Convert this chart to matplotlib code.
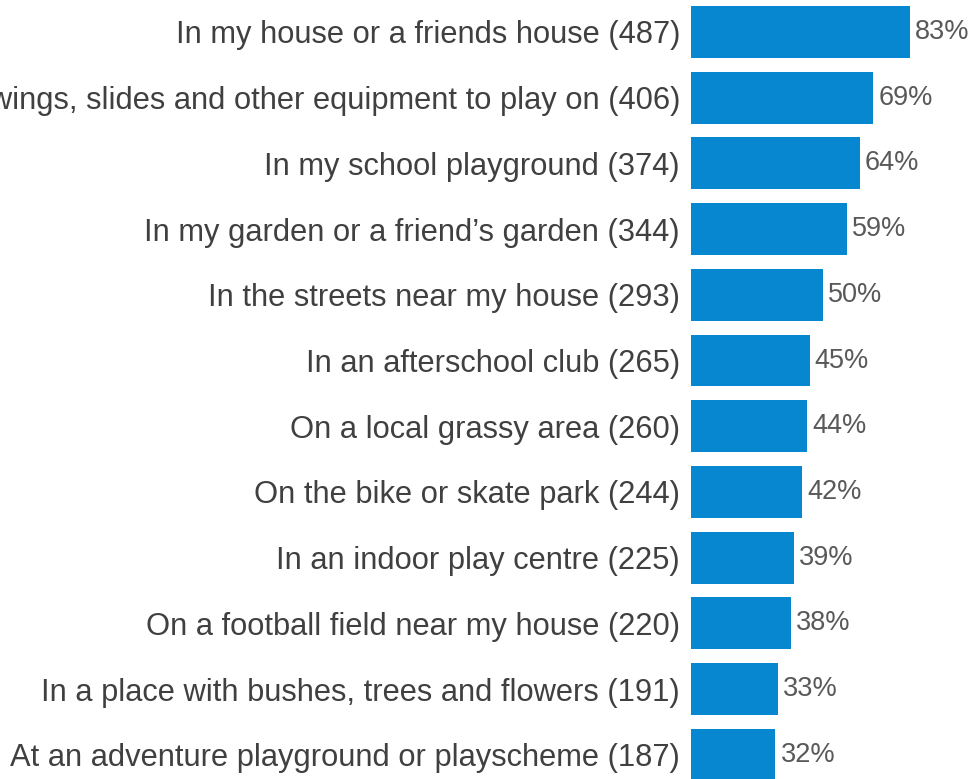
import matplotlib
matplotlib.use("Agg")
import matplotlib.pyplot as plt

categories = [
    "In my house or a friends house (487)",
    "In a park with swings, slides and other equipment to play on (406)",
    "In my school playground (374)",
    "In my garden or a friend\u2019s garden (344)",
    "In the streets near my house (293)",
    "In an afterschool club (265)",
    "On a local grassy area (260)",
    "On the bike or skate park (244)",
    "In an indoor play centre (225)",
    "On a football field near my house (220)",
    "In a place with bushes, trees and flowers (191)",
    "At an adventure playground or playscheme (187)",
]
values = [83, 69, 64, 59, 50, 45, 44, 42, 39, 38, 33, 32]

plt.rcParams['font.family'] = ['Liberation Sans', 'DejaVu Sans']

W, H = 980, 779
fig = plt.figure(figsize=(W / 100, H / 100), dpi=100)
ax_left = 691 / W
ax_width = 264 / W
ax = fig.add_axes([ax_left, 0, ax_width, 1])

ypos = list(range(len(categories)))
ax.barh(ypos, values, height=0.79, color='#0787D0')
for y, v in zip(ypos, values):
    ax.text(v + 1.9, y, f"{v}%", va='center', ha='left', fontsize=19.5, color='#595959')

step = 65.7
top_c = 32
ax.set_ylim((H - top_c) / step, -top_c / step)
ax.set_xlim(0, 100)
ax.set_yticks(ypos)
ax.set_yticklabels(categories, fontsize=22.2, color='#404040')
ax.tick_params(axis='y', length=0, pad=8)
ax.set_xticks([])
for s in ax.spines.values():
    s.set_visible(False)

fig.savefig("out.png", dpi=100)
